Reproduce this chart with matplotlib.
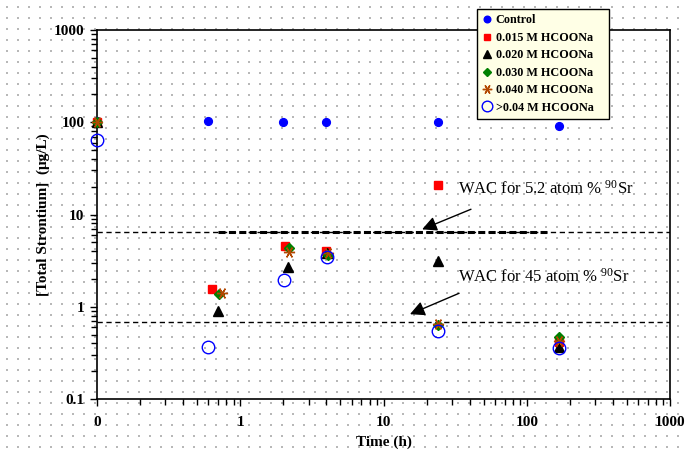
import numpy as np
import matplotlib
matplotlib.use('Agg')
import matplotlib.pyplot as plt

plt.rcParams['font.family'] = ['Liberation Serif', 'DejaVu Serif']
plt.rcParams['mathtext.fontset'] = 'custom'
plt.rcParams['mathtext.rm'] = 'Liberation Serif'
plt.rcParams['mathtext.it'] = 'Liberation Serif:italic'
plt.rcParams['mathtext.bf'] = 'Liberation Serif:bold'

# data (time in h, first sample plotted at the axis origin 0.1)
t_control = [0.1, 0.6, 2.0, 4.0, 24, 168]
control = [102, 104, 101, 101, 100, 92]
t_015 = [0.1, 0.63, 2.05, 4.0, 24, 168]
m_015 = [100, 1.55, 4.6, 4.0, 21, 0.41]
t_020 = [0.1, 0.70, 2.15, 4.05, 24, 168]
m_020 = [100, 0.90, 2.7, 3.8, 3.1, 0.37]
t_030 = [0.1, 0.71, 2.2, 4.1, 24, 168]
m_030 = [100, 1.37, 4.3, 3.6, 0.64, 0.47]
t_040 = [0.1, 0.74, 2.2, 4.1, 24, 168]
m_040 = [100, 1.40, 3.95, 3.8, 0.65, 0.43]
t_gt04 = [0.1, 0.60, 2.03, 4.05, 24, 168]
m_gt04 = [65, 0.37, 1.93, 3.42, 0.55, 0.36]

wac_levels = [6.5, 0.68]
wac_bold_span = [0.7, 138]
x_ticks = [0.1, 1, 10, 100, 1000]
x_ticklabels = ['0', '1', '10', '100', '1000']
y_ticks = [0.1, 1, 10, 100, 1000]
y_ticklabels = ['0.1', '1', '10', '100', '1000']

fig = plt.figure(figsize=(6.88, 4.58), dpi=100)

# dotted background texture
bg = fig.add_axes([0, 0, 1, 1], zorder=-5)
bg.set_xlim(0, 688)
bg.set_ylim(458, 0)
bg.axis('off')
gx, gy = np.meshgrid(np.arange(7, 688, 11), np.arange(7, 458, 11))
bg.scatter(gx.ravel(), gy.ravel(), s=0.6, color='#b8b8b8', marker='s', linewidths=0)

ax = fig.add_axes([97/688, 59/458, 573/688, 369/458])
ax.patch.set_alpha(0)
ax.set_xscale('log')
ax.set_yscale('log')
ax.set_xlim(0.1, 1000)
ax.set_ylim(0.1, 1000)

# WAC lines
for lv in wac_levels:
    ax.axhline(lv, color='black', lw=1, dashes=(3.8, 2.6), zorder=1)
ax.plot(wac_bold_span, [wac_levels[0]] * 2, color='black', lw=2.2, dashes=(2.3, 1.1), zorder=1)

ax.plot(t_control, control, ls='none', marker='o', ms=5.6, color='#0000ff', mec='#0000ff',
        label='Control', clip_on=False, zorder=3)
ax.plot(t_015, m_015, ls='none', marker='s', ms=5.8, color='#ff0000', mec='#ff0000',
        label='0.015 M HCOONa', clip_on=False, zorder=3)
ax.plot(t_020, m_020, ls='none', marker='^', ms=7, color='black',
        label='0.020 M HCOONa', clip_on=False, zorder=3)
ax.plot(t_030, m_030, ls='none', marker='D', ms=5, color='#008000', mec='#008000',
        label='0.030 M HCOONa', clip_on=False, zorder=3)
ax.plot(t_040, m_040, ls='none', marker=(6, 2, 90), ms=8, color='#b34700', mew=1,
        label='0.040 M HCOONa', clip_on=False, zorder=3)
ax.plot(t_gt04, m_gt04, ls='none', marker='o', ms=9, mfc='none', mec='#0000ff', mew=1,
        label='>0.04 M HCOONa', clip_on=False, zorder=3)

# annotations
ax.annotate('', xy=(18.6, 6.9), xytext=(40.8, 11.4),
            arrowprops=dict(arrowstyle='-|>', mutation_scale=22, lw=1, color='black',
                            shrinkA=0, shrinkB=0))
ax.annotate('', xy=(15.3, 0.83), xytext=(33.7, 1.40),
            arrowprops=dict(arrowstyle='-|>', mutation_scale=22, lw=1, color='black',
                            shrinkA=0, shrinkB=0))
ax.text(33.1, 19.2, r'WAC for 5.2 atom % $^{\mathrm{90}}$Sr', fontsize=12, va='center', ha='left')
ax.text(33.1, 2.09, r'WAC for 45 atom % $^{\mathrm{90}}$Sr', fontsize=12, va='center', ha='left')

# ticks
ax.set_xticks(x_ticks)
ax.set_xticklabels(x_ticklabels, fontweight='bold', fontsize=11)
ax.set_yticks(y_ticks)
ax.set_yticklabels(y_ticklabels, fontweight='bold', fontsize=11)
ax.tick_params(which='major', direction='out', length=5, width=1, color='black')
ax.tick_params(which='minor', direction='out', length=4, width=1, color='black')
ax.tick_params(axis='x', pad=7)
ax.tick_params(axis='y', pad=4)
for s in ax.spines.values():
    s.set_linewidth(1.2)

ax.set_xlabel('Time (h)', fontweight='bold', fontsize=11, labelpad=5)
ax.set_ylabel('[Total Strontium]  (\u03bcg/L)', fontweight='bold', fontsize=11, labelpad=3)

leg = fig.legend(loc='upper left',
                 bbox_to_anchor=(477/688, 1 - 117/458, 132/688, 108/458), mode='expand',
                 frameon=True, fancybox=False, shadow=False,
                 prop={'weight': 'bold', 'size': 8.7},
                 markerscale=0.85, handlelength=0.8, handletextpad=0.3, labelspacing=0.45,
                 borderpad=0.45, borderaxespad=0)
leg.get_frame().set_facecolor('#ffffe6')
leg.get_frame().set_edgecolor('black')
leg.get_frame().set_linewidth(1)
leg.get_frame().set_alpha(1)

fig.savefig('out.png', dpi=100)
